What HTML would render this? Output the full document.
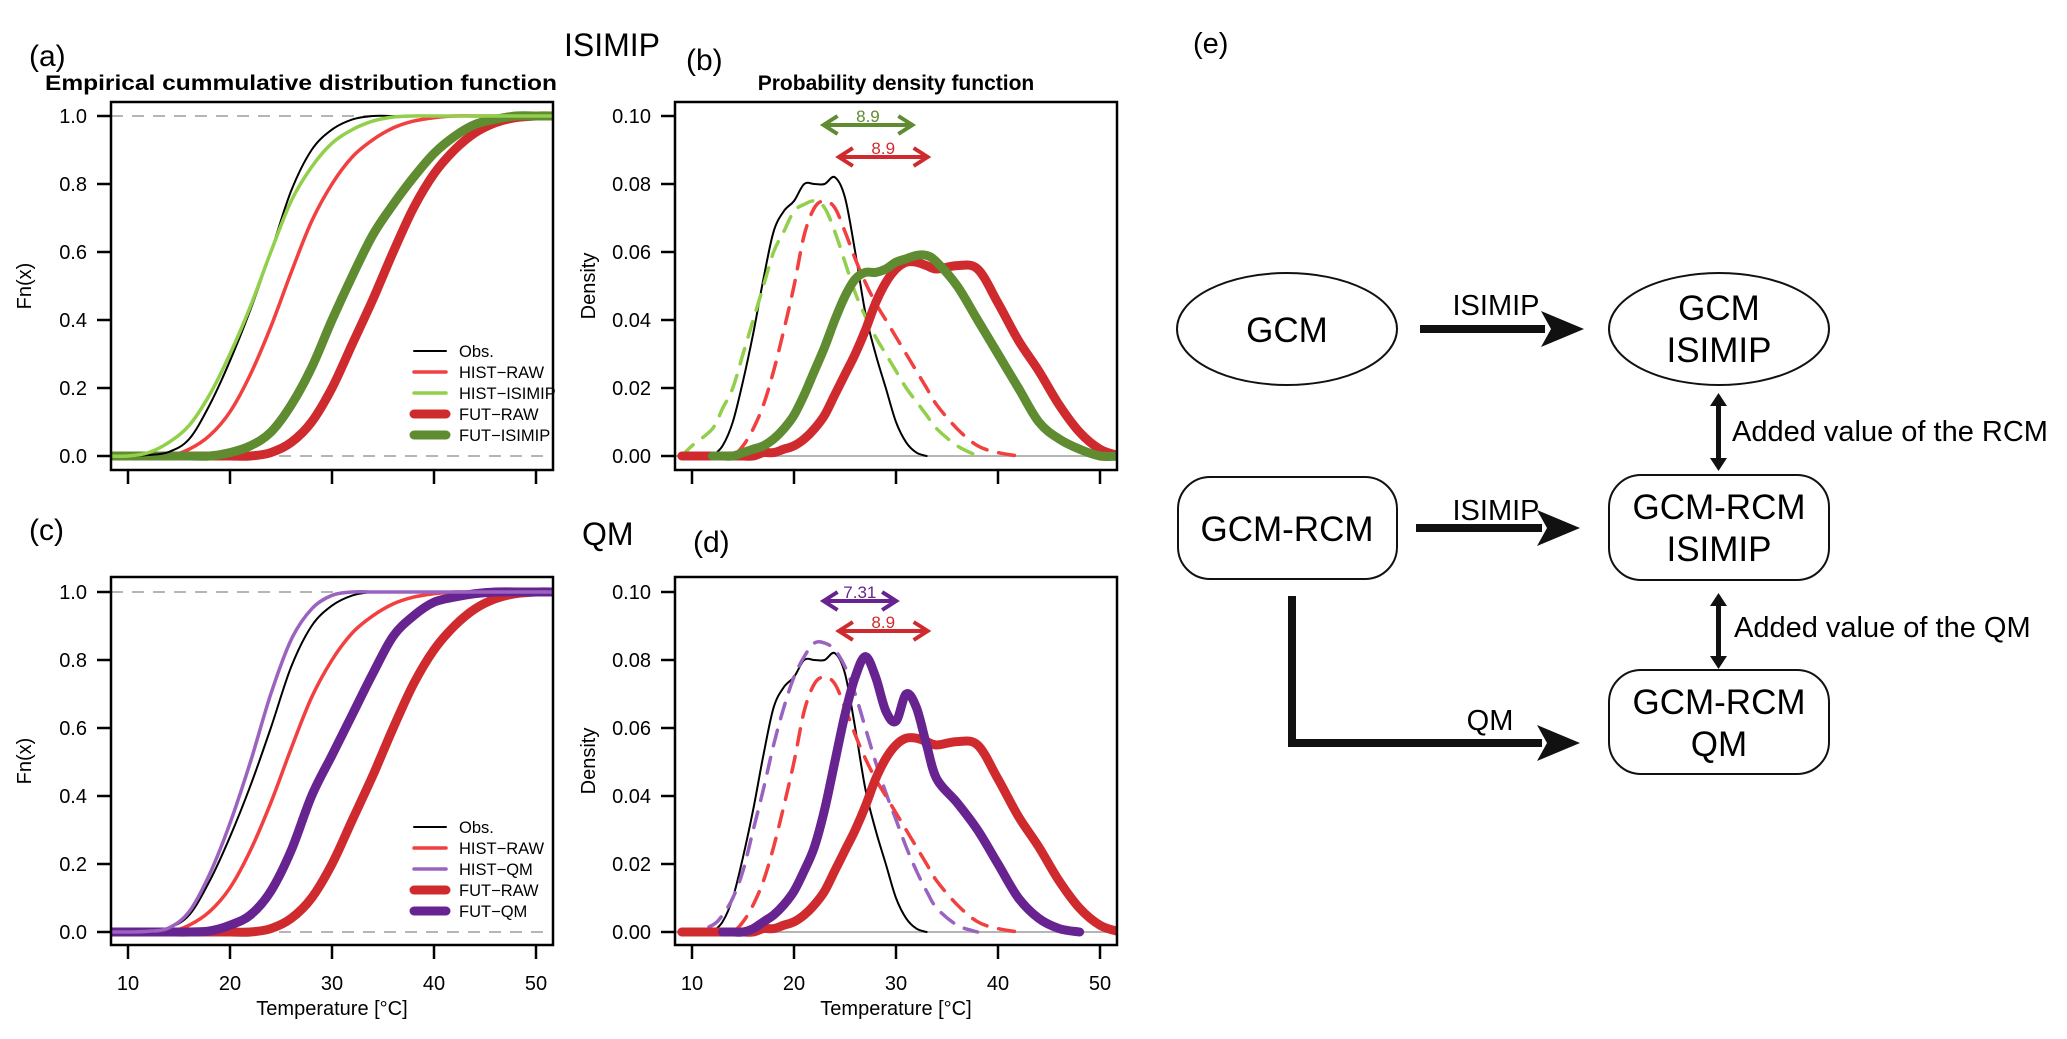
<!DOCTYPE html>
<html><head><meta charset="utf-8"><style>
html,body{margin:0;padding:0;background:#fff;}
svg text{font-family:"Liberation Sans",Arial,sans-serif;}
</style></head><body>
<svg id="fig" width="2067" height="1034" viewBox="0 0 2067 1034" xmlns="http://www.w3.org/2000/svg">
<g id="charts"></g>
<g id="diagram">
<text x="1193" y="53" font-size="29">(e)</text>
<ellipse cx="1287" cy="329" rx="110" ry="56" fill="none" stroke="#111" stroke-width="2"/>
<text x="1287" y="342" font-size="35" text-anchor="middle">GCM</text>
<ellipse cx="1719" cy="329" rx="110" ry="56" fill="none" stroke="#111" stroke-width="2"/>
<text x="1719" y="320" font-size="35" text-anchor="middle">GCM</text>
<text x="1719" y="362" font-size="35" text-anchor="middle">ISIMIP</text>
<rect x="1178" y="477" width="219" height="102" rx="32" fill="none" stroke="#111" stroke-width="2"/>
<text x="1287" y="541" font-size="35" text-anchor="middle">GCM-RCM</text>
<rect x="1609" y="475" width="220" height="105" rx="32" fill="none" stroke="#111" stroke-width="2"/>
<text x="1719" y="519" font-size="35" text-anchor="middle">GCM-RCM</text>
<text x="1719" y="561" font-size="35" text-anchor="middle">ISIMIP</text>
<rect x="1609" y="670" width="220" height="104" rx="32" fill="none" stroke="#111" stroke-width="2"/>
<text x="1719" y="714" font-size="35" text-anchor="middle">GCM-RCM</text>
<text x="1719" y="756" font-size="35" text-anchor="middle">QM</text>
<g>
<rect x="1420" y="325" width="125" height="8" fill="#111"/>
<polygon points="1541,311 1584,329 1541,347 1551,329" fill="#111"/>
</g>
<text x="1496" y="315" font-size="29" text-anchor="middle">ISIMIP</text>
<g>
<rect x="1416" y="524" width="126" height="8" fill="#111"/>
<polygon points="1537,510 1580,528 1537,546 1547,528" fill="#111"/>
</g>
<text x="1496" y="520" font-size="29" text-anchor="middle">ISIMIP</text>
<g>
<rect x="1288" y="596" width="8" height="151" fill="#111"/>
<rect x="1288" y="739" width="254" height="8" fill="#111"/>
<polygon points="1537,725 1580,743 1537,761 1547,743" fill="#111"/>
</g>
<text x="1490" y="730" font-size="29" text-anchor="middle">QM</text>
<g>
<rect x="1716" y="402" width="5" height="60" fill="#111"/>
<polygon points="1710,406 1718.5,393 1727,406" fill="#111"/>
<polygon points="1710,458 1718.5,471 1727,458" fill="#111"/>
</g>
<text x="1732" y="441" font-size="29">Added value of the RCM</text>
<g>
<rect x="1716" y="602" width="5" height="58" fill="#111"/>
<polygon points="1710,606 1718.5,593 1727,606" fill="#111"/>
<polygon points="1710,656 1718.5,669 1727,656" fill="#111"/>
</g>
<text x="1734" y="637" font-size="29">Added value of the QM</text>
</g>
</svg>
<script>
// ---- data ----
const cdfT = [8,10,12,14,16,18,20,22,24,26,28,30,32,34,36,38,40,42,44,46,48,50,52];
const cdfObs      = [0,0,0.003,0.012,0.05,0.15,0.28,0.43,0.6,0.78,0.9,0.96,0.99,1,1,1,1,1,1,1,1,1,1];
const cdfHistIsi  = [0,0,0.01,0.04,0.09,0.18,0.3,0.44,0.6,0.75,0.85,0.92,0.96,0.985,0.997,1,1,1,1,1,1,1,1];
const cdfHistRaw  = [0,0,0,0,0.02,0.06,0.13,0.24,0.38,0.54,0.69,0.8,0.88,0.93,0.965,0.985,0.995,1,1,1,1,1,1];
const cdfFutIsi   = [0,0,0,0,0,0,0.01,0.03,0.07,0.15,0.26,0.4,0.53,0.65,0.74,0.82,0.89,0.94,0.975,0.99,1,1,1];
const cdfFutRaw   = [0,0,0,0,0,0,0,0,0.01,0.04,0.1,0.2,0.33,0.46,0.6,0.73,0.83,0.9,0.95,0.98,0.995,1,1];
const cdfHistQm   = [0,0,0.002,0.012,0.06,0.17,0.32,0.5,0.7,0.86,0.95,0.99,1,1,1,1,1,1,1,1,1,1,1];
const cdfFutQm    = [0,0,0,0,0,0.003,0.02,0.05,0.12,0.24,0.4,0.52,0.64,0.76,0.87,0.93,0.97,0.985,0.995,1,1,1,1];
const pdfT = [9,10,12,13,14,15,16,17,18,19,20,21,22,23,24,25,26,27,28,29,30,31,32,33,34,36,38,40,42,44,46,48,50,52];
const pdfObs     = [null,null,0,0.003,0.01,0.022,0.036,0.052,0.066,0.072,0.075,0.08,0.08,0.08,0.082,0.076,0.06,0.042,0.03,0.02,0.01,0.004,0.001,0,null,null,null,null,null,null,null,null,null,null];
const pdfHistIsi = [0,0.003,0.008,0.014,0.02,0.03,0.04,0.05,0.06,0.066,0.072,0.074,0.075,0.073,0.066,0.057,0.048,0.041,0.035,0.03,0.025,0.02,0.016,0.012,0.008,0.003,0,null,null,null,null,null,null,null];
const pdfHistRaw = [0,0,0,0,0,0.003,0.008,0.015,0.025,0.037,0.05,0.065,0.073,0.075,0.073,0.066,0.058,0.051,0.045,0.04,0.035,0.03,0.025,0.02,0.015,0.008,0.003,0.001,0,null,null,null,null,null];
const pdfFutIsi  = [null,null,0,0,0,0.001,0.002,0.003,0.005,0.008,0.012,0.018,0.025,0.032,0.04,0.047,0.052,0.054,0.054,0.055,0.057,0.058,0.059,0.059,0.057,0.05,0.04,0.03,0.02,0.01,0.005,0.002,0,0];
const pdfFutRaw  = [0,0,0,0,0,0,0,0.001,0.001,0.002,0.003,0.005,0.008,0.012,0.018,0.024,0.03,0.037,0.045,0.051,0.055,0.057,0.057,0.056,0.055,0.056,0.055,0.045,0.034,0.025,0.015,0.007,0.002,0];
const pdfHistQm  = [0,0,0.002,0.005,0.01,0.018,0.03,0.042,0.055,0.066,0.075,0.081,0.085,0.085,0.083,0.078,0.07,0.06,0.05,0.041,0.033,0.025,0.018,0.012,0.007,0.002,0,null,null,null,null,null,null,null];
const pdfFutQm   = [null,null,null,0,0,0,0.001,0.003,0.005,0.008,0.012,0.018,0.025,0.036,0.05,0.064,0.075,0.081,0.075,0.065,0.062,0.07,0.066,0.055,0.045,0.038,0.03,0.02,0.01,0.004,0.001,0,null,null];
const xTicks = [10,20,30,40,50];
const cdfTicks = [0,0.2,0.4,0.6,0.8,1.0];
const cdfTickLabels = ["0.0","0.2","0.4","0.6","0.8","1.0"];
const pdfTicks = [0,0.02,0.04,0.06,0.08,0.10];
const pdfTickLabels = ["0.00","0.02","0.04","0.06","0.08","0.10"];
const shiftsB = [8.9, 8.9];
const shiftsD = [7.31, 8.9];
const shiftStartB = [22.8, 24.3];
const shiftStartD = [22.8, 24.3];

const C = {obs:'#000', hr:'#f23f3f', hi:'#92cf4a', fr:'#cf2b2f', fi:'#5f8b31', hq:'#9b63c0', fq:'#67238f'};
const NS='http://www.w3.org/2000/svg';
const root=document.getElementById('charts');
function el(tag, attrs, parent){const e=document.createElementNS(NS,tag);for(const k in attrs)e.setAttribute(k,attrs[k]);(parent||root).appendChild(e);return e;}

function makeAxes(left, y0px, yScalePx){
  const xs = t => left + 17 + (t-10)*10.2;
  const ys = v => y0px - v*yScalePx;
  return {xs, ys};
}
function smoothPath(pts){
  if(pts.length<2) return '';
  let d='M'+pts[0][0].toFixed(1)+','+pts[0][1].toFixed(1);
  for(let i=0;i<pts.length-1;i++){
    const p0=pts[i-1]||pts[i], p1=pts[i], p2=pts[i+1], p3=pts[i+2]||p2;
    const c1x=p1[0]+(p2[0]-p0[0])/6, c1y=p1[1]+(p2[1]-p0[1])/6;
    const c2x=p2[0]-(p3[0]-p1[0])/6, c2y=p2[1]-(p3[1]-p1[1])/6;
    d+=' C'+c1x.toFixed(1)+','+c1y.toFixed(1)+' '+c2x.toFixed(1)+','+c2y.toFixed(1)+' '+p2[0].toFixed(1)+','+p2[1].toFixed(1);
  }
  return d;
}
function series(g, ax, xsArr, vals, color, w, dash, name, clipId){
  const pts=[];
  for(let i=0;i<xsArr.length;i++){ if(vals[i]===null||vals[i]===undefined) continue; pts.push([ax.xs(xsArr[i]), ax.ys(vals[i])]); }
  const p=el('path',{d:smoothPath(pts),fill:'none',stroke:color,'stroke-width':w,'stroke-linecap':'round','stroke-linejoin':'round','clip-path':'url(#'+clipId+')'},g);
  if(dash) p.setAttribute('stroke-dasharray',dash);
  
  
}

function panel(opt){
  const g=el('g',{});
  
  
  const left=opt.left, top=opt.top, W=442, H=368;
  const ax=makeAxes(left, opt.y0, opt.ysc);
  const cid='clip-'+opt.name;
  const cp=el('clipPath',{id:cid},g); el('rect',{x:left+1,y:top+1,width:W-2,height:H-2},cp);
  opt.refs.forEach(r=>{
    const l=el('line',{x1:left,x2:left+W,y1:ax.ys(r),y2:ax.ys(r),stroke:'#b5b5b5','stroke-width':2},g);
    if(opt.refDash) l.setAttribute('stroke-dasharray','12,9');
    
    
  });
  opt.series.forEach(s=>series(g, ax, s.t, s.v, s.c, s.w, s.d, s.n, cid));
  const b=el('rect',{x:left,y:top,width:W,height:H,fill:'none',stroke:'#000','stroke-width':2.5},g);
  
  
  opt.yTicks.forEach((v,i)=>{
    const y=ax.ys(v);
    el('line',{x1:left-14,x2:left,y1:y,y2:y,stroke:'#000','stroke-width':2.5},g);
    const t=el('text',{x:left-24,y:y+7,'font-size':20,'text-anchor':'end'},g);
    t.textContent=opt.yLabels[i];
    
    
  });
  xTicks.forEach(v=>{
    const x=ax.xs(v);
    el('line',{x1:x,x2:x,y1:top+H,y2:top+H+14,stroke:'#000','stroke-width':2.5},g);
    if(opt.xLabels){
      const t=el('text',{x:x,y:top+H+45,'font-size':20,'text-anchor':'middle'},g);
      t.textContent=String(v);
      
      
    }
  });
  if(opt.xLabels){
    const t=el('text',{x:left+W/2,y:top+H+70,'font-size':20,'text-anchor':'middle'},g);
    t.textContent='Temperature [°C]';
    
    
  }
  const yt=el('text',{x:0,y:0,'font-size':20,'text-anchor':'middle',transform:'translate('+(left-80)+','+(top+H/2)+') rotate(-90)'},g);
  yt.textContent=opt.yTitle;
  
  
  if(opt.legend){
    opt.legend.forEach((e,i)=>{
      const y=opt.legendY+i*21;
      const l=el('line',{x1:left+W-139,x2:left+W-107,y1:y,y2:y,stroke:e.c,'stroke-width':e.w,'stroke-linecap':'round'},g);
      
      
      const t=el('text',{x:left+W-94,y:y+6,'font-size':16.5},g);
      t.textContent=e.n;
      
      
    });
  }
  if(opt.shifts){
    opt.shifts.forEach((s,i)=>{
      const x1=ax.xs(opt.shiftStart[i]), x2=ax.xs(opt.shiftStart[i]+s.v), y=opt.shiftY[i];
      const ag=el('g',{},g);
      
      
      el('line',{x1:x1+2,x2:x2-2,y1:y,y2:y,stroke:s.c,'stroke-width':4},ag);
      el('path',{d:'M'+(x1+15)+','+(y-9)+' L'+(x1+1)+','+y+' L'+(x1+15)+','+(y+9),fill:'none',stroke:s.c,'stroke-width':4},ag);
      el('path',{d:'M'+(x2-15)+','+(y-9)+' L'+(x2-1)+','+y+' L'+(x2-15)+','+(y+9),fill:'none',stroke:s.c,'stroke-width':4},ag);
      const t=el('text',{x:(x1+x2)/2,y:y-3,'font-size':17,'text-anchor':'middle',fill:s.c},g);
      t.textContent=String(s.v);
      
      
    });
  }
}

const TOP1=102, TOP2=577;
panel({name:'panel-a-ecdf',left:111,top:TOP1,y0:456,ysc:340,refs:[0,1],refDash:true,yTicks:cdfTicks,yLabels:cdfTickLabels,yTitle:'Fn(x)',xLabels:false,
  series:[{t:cdfT,v:cdfHistRaw,c:C.hr,w:3.5,n:'hist-raw-cdf'},{t:cdfT,v:cdfFutRaw,c:C.fr,w:9,n:'fut-raw-cdf'},{t:cdfT,v:cdfFutIsi,c:C.fi,w:9,n:'fut-isimip-cdf'},{t:cdfT,v:cdfObs,c:C.obs,w:2,n:'obs-cdf'},{t:cdfT,v:cdfHistIsi,c:C.hi,w:3.5,n:'hist-isimip-cdf'}],
  legend:[{n:'Obs.',c:C.obs,w:2},{n:'HIST\u2212RAW',c:C.hr,w:3.5},{n:'HIST\u2212ISIMIP',c:C.hi,w:3.5},{n:'FUT\u2212RAW',c:C.fr,w:9},{n:'FUT\u2212ISIMIP',c:C.fi,w:9}],legendY:351});
panel({name:'panel-b-pdf',left:675,top:TOP1,y0:456,ysc:3400,refs:[0],refDash:false,yTicks:pdfTicks,yLabels:pdfTickLabels,yTitle:'Density',xLabels:false,
  series:[{t:pdfT,v:pdfObs,c:C.obs,w:2,n:'obs-pdf'},{t:pdfT,v:pdfHistIsi,c:C.hi,w:3.5,d:'16,12',n:'hist-isimip-pdf'},{t:pdfT,v:pdfHistRaw,c:C.hr,w:3.5,d:'16,12',n:'hist-raw-pdf'},{t:pdfT,v:pdfFutRaw,c:C.fr,w:9,n:'fut-raw-pdf'},{t:pdfT,v:pdfFutIsi,c:C.fi,w:9,n:'fut-isimip-pdf'}],
  shifts:[{v:shiftsB[0],c:C.fi},{v:shiftsB[1],c:C.fr}],shiftStart:shiftStartB,shiftY:[125,157]});
panel({name:'panel-c-ecdf',left:111,top:TOP2,y0:932,ysc:340,refs:[0,1],refDash:true,yTicks:cdfTicks,yLabels:cdfTickLabels,yTitle:'Fn(x)',xLabels:true,
  series:[{t:cdfT,v:cdfHistRaw,c:C.hr,w:3.5,n:'hist-raw-cdf'},{t:cdfT,v:cdfFutRaw,c:C.fr,w:9,n:'fut-raw-cdf'},{t:cdfT,v:cdfFutQm,c:C.fq,w:9,n:'fut-qm-cdf'},{t:cdfT,v:cdfObs,c:C.obs,w:2,n:'obs-cdf'},{t:cdfT,v:cdfHistQm,c:C.hq,w:3.5,n:'hist-qm-cdf'}],
  legend:[{n:'Obs.',c:C.obs,w:2},{n:'HIST\u2212RAW',c:C.hr,w:3.5},{n:'HIST\u2212QM',c:C.hq,w:3.5},{n:'FUT\u2212RAW',c:C.fr,w:9},{n:'FUT\u2212QM',c:C.fq,w:9}],legendY:827});
panel({name:'panel-d-pdf',left:675,top:TOP2,y0:932,ysc:3400,refs:[0],refDash:false,yTicks:pdfTicks,yLabels:pdfTickLabels,yTitle:'Density',xLabels:true,
  series:[{t:pdfT,v:pdfObs,c:C.obs,w:2,n:'obs-pdf'},{t:pdfT,v:pdfHistQm,c:C.hq,w:3.5,d:'16,12',n:'hist-qm-pdf'},{t:pdfT,v:pdfHistRaw,c:C.hr,w:3.5,d:'16,12',n:'hist-raw-pdf'},{t:pdfT,v:pdfFutRaw,c:C.fr,w:9,n:'fut-raw-pdf'},{t:pdfT,v:pdfFutQm,c:C.fq,w:9,n:'fut-qm-pdf'}],
  shifts:[{v:shiftsD[0],c:C.fq},{v:shiftsD[1],c:C.fr}],shiftStart:shiftStartD,shiftY:[601,631]});

function txt(x,y,s,str,name,extra){const t=el('text',Object.assign({x:x,y:y,'font-size':s},extra||{}));t.textContent=str;
  
  
  return t;}
txt(29,66,30,'(a)','panel-label-a');
txt(564,56,32,'ISIMIP','isimip-section-title');
txt(686,70,30,'(b)','panel-label-b');
txt(45,90,21,'Empirical cummulative distribution function','ecdf-title',{'font-weight':'bold',textLength:512,lengthAdjust:'spacingAndGlyphs'});
txt(896,90,21,'Probability density function','pdf-title',{'font-weight':'bold','text-anchor':'middle'});
txt(29,540,30,'(c)','panel-label-c');
txt(582,545,32,'QM','qm-section-title');
txt(693,552,30,'(d)','panel-label-d');
</script>
</body></html>
